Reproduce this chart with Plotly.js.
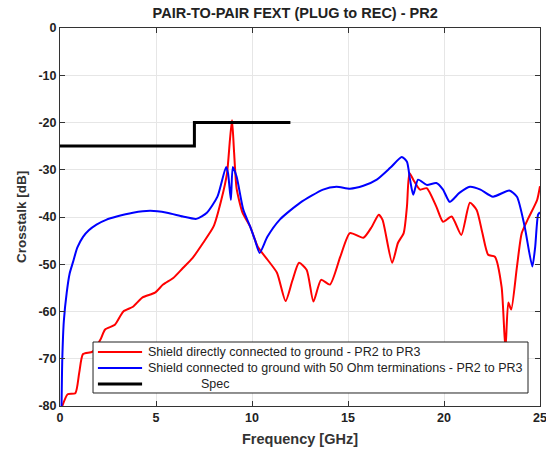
<!DOCTYPE html>
<html>
<head>
<meta charset="utf-8">
<script src="https://cdn.plot.ly/plotly-3.0.1.min.js"></script>
<style>html,body{margin:0;padding:0;background:#fff;}#chart{width:546px;height:455px;}</style>
</head>
<body>
<div id="chart"></div>
<script>
// Red: shield directly connected to ground
const redFreq = [0.12,0.4,0.8,1.0,1.2,1.7,2.1,2.35,2.86,3.3,3.8,4.3,4.95,5.37,5.9,6.4,6.9,7.45,8.0,8.4,8.7,8.85,8.96,9.06,9.2,9.5,9.9,10.3,10.8,11.3,11.75,12.1,12.45,12.85,13.2,13.6,14.06,14.6,15.1,15.8,16.25,16.6,16.8,17.3,17.6,17.9,18.07,18.2,18.4,18.75,19.1,19.6,19.95,20.4,20.9,21.35,21.7,22.0,22.3,22.65,23.0,23.2,23.35,23.5,23.8,24.05,24.4,24.85,25];
const redDb = [-80,-77.5,-77.3,-73,-69,-68.5,-66,-63.8,-62.8,-60,-59,-57,-56,-54.3,-52.9,-50.8,-48.7,-45.5,-42,-36.4,-30.7,-23.7,-19.5,-25.8,-34,-39,-42,-46.3,-49,-51.8,-57.8,-53.5,-49.7,-51.2,-57.9,-53.3,-54.3,-48.4,-43.4,-44.4,-42,-39.5,-40.6,-49.7,-45.5,-43.4,-37.8,-30.7,-32.1,-34.2,-33.9,-37.8,-41,-39.9,-43.8,-37,-38.5,-43.4,-48,-48.4,-54.8,-68,-58.1,-59.6,-50.5,-43.4,-40.2,-36.4,-33.5];
// Blue: shield connected to ground with 50 Ohm terminations
const blueFreq = [0.08,0.12,0.2,0.35,0.5,0.68,0.9,1.2,1.5,1.9,2.4,2.95,3.8,4.7,5.57,6.4,7.1,7.65,8.2,8.65,8.75,8.9,9.0,9.2,9.55,9.9,10.15,10.4,10.8,11.46,12.5,13.7,14.4,15.1,15.8,16.5,17.2,17.8,18.07,18.23,18.4,18.65,19.1,19.6,19.95,20.3,20.8,21.35,21.9,22.55,23.4,23.8,24.2,24.6,24.75,24.9,25];
const blueDb = [-80,-70,-62,-56,-52,-49.5,-46.5,-44.2,-42.8,-41.6,-40.6,-39.9,-39.1,-38.7,-39.1,-39.9,-40.4,-39.1,-35.7,-29.4,-30.7,-36.4,-29.4,-31.5,-38.5,-42,-44.8,-47.6,-44.2,-40.5,-37,-34.2,-33.6,-34,-33.4,-32.1,-29.6,-27.3,-28.3,-32.1,-35.3,-32.1,-33.2,-32.8,-34.2,-36.8,-34.9,-33.6,-34.2,-35.7,-34.4,-35.7,-42,-50.5,-46.3,-39.5,-39];
// Spec limit
const specFreq = [0,7,7,12];
const specDb = [-25,-25,-20,-20];
const xTicks = [0,5,10,15,20,25];
const yTicks = [0,-10,-20,-30,-40,-50,-60,-70,-80];
const seriesNames = ['Shield directly connected to ground - PR2 to PR3','Shield connected to ground with 50 Ohm terminations - PR2 to PR3','Spec'];
const seriesColors = ['#ff0000','#0000ff','#000000'];

const F = 'Liberation Sans, Arial, sans-serif';
const traces = [
  {x: redFreq, y: redDb, type:'scatter', mode:'lines', name:seriesNames[0], line:{color:seriesColors[0], width:2, shape:'spline', smoothing:0.6}},
  {x: blueFreq, y: blueDb, type:'scatter', mode:'lines', name:seriesNames[1], line:{color:seriesColors[1], width:2, shape:'spline', smoothing:0.6}},
  {x: specFreq, y: specDb, type:'scatter', mode:'lines', name:seriesNames[2], line:{color:seriesColors[2], width:3}}
];

// Custom legend (MATLAB style) built from shapes + annotations
const rowY = [0.1429, 0.1005, 0.0582];
const textX = [0.179, 0.179, 0.2896];
const shapes = [{type:'rect', xref:'paper', yref:'paper', x0:0.0688, x1:0.975, y0:0.0344, y1:0.1693,
  fillcolor:'#fff', line:{color:'#222', width:1}, layer:'above'}];
const annotations = [];
seriesNames.forEach((n,i)=>{
  shapes.push({type:'line', xref:'paper', yref:'paper', x0:0.079, x1:0.171, y0:rowY[i], y1:rowY[i],
    line:{color:seriesColors[i], width: i===2 ? 3 : 2}, layer:'above'});
  annotations.push({xref:'paper', yref:'paper', x:textX[i], y:rowY[i], xanchor:'left', yanchor:'middle',
    text:n, showarrow:false, font:{family:F, size:12.5, color:'#222'}});
});

const axisCommon = {
  showline:true, linecolor:'#333', linewidth:1, mirror:'ticks', ticks:'inside', ticklen:5, tickcolor:'#333',
  showgrid:true, gridcolor:'#e6e6e6', gridwidth:1, zeroline:false, ticklabeloverflow:'allow',
  tickfont:{family:F, size:12.5, color:'#222'}
};
const layout = {
  width:546, height:455,
  margin:{l:60, r:6, t:28, b:49},
  paper_bgcolor:'#fff', plot_bgcolor:'#fff',
  title:{text:'<b>PAIR-TO-PAIR FEXT (PLUG to REC) - PR2</b>', font:{family:F, size:14.5, color:'#222'}, xref:'paper', x:0.49, xanchor:'center', yref:'container', y:0.982, yanchor:'top'},
  xaxis: Object.assign({}, axisCommon, {range:[0,25], tickvals:xTicks, ticktext:xTicks.map(v=>'<b>'+v+'</b>'), title:{text:'<b>Frequency [GHz]</b>', font:{family:F, size:14.5, color:'#333'}, standoff:9}}),
  yaxis: Object.assign({}, axisCommon, {range:[-80,0], tickvals:yTicks, ticktext:yTicks.map(v=>'<b>'+v+'</b>'), title:{text:'<b>Crosstalk [dB]</b>', font:{family:F, size:13.5, color:'#333'}, standoff:8}}),
  showlegend:false,
  shapes: shapes,
  annotations: annotations
};
Plotly.newPlot('chart', traces, layout, {displayModeBar:false, staticPlot:true});
</script>
</body>
</html>
